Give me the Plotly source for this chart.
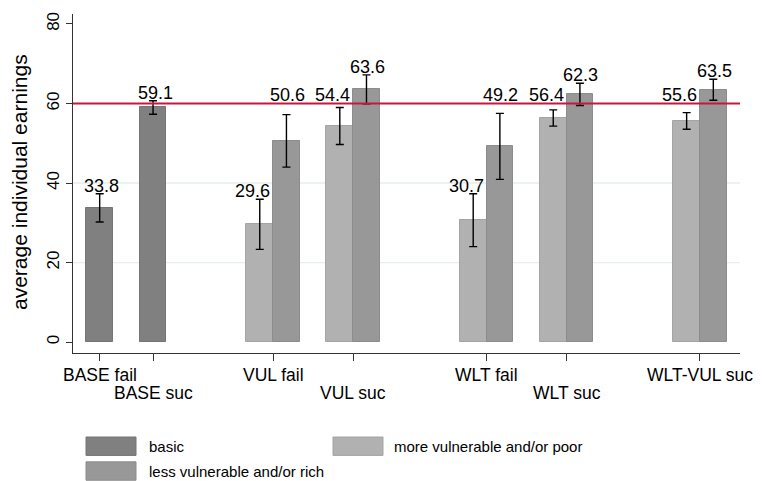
import plotly.graph_objects as go

# ---- data -------------------------------------------------------------
groups = ["BASE fail", "BASE suc", "VUL fail", "VUL suc",
          "WLT fail", "WLT suc", "WLT-VUL suc"]

series_names = ["basic", "more vulnerable and/or poor", "less vulnerable and/or rich"]

basic_groups = ["BASE fail", "BASE suc"]
basic_mean = [33.8, 59.1]
basic_lo = [30.2, 57.3]
basic_hi = [37.3, 60.7]

split_groups = ["VUL fail", "VUL suc", "WLT fail", "WLT suc", "WLT-VUL suc"]
poor_mean = [29.6, 54.4, 30.7, 56.4, 55.6]
poor_lo = [23.3, 49.7, 24.0, 54.3, 53.5]
poor_hi = [35.9, 59.0, 37.3, 58.4, 57.7]
rich_mean = [50.6, 63.6, 49.2, 62.3, 63.5]
rich_lo = [44.0, 59.9, 40.9, 59.5, 60.8]
rich_hi = [57.2, 67.2, 57.5, 65.1, 66.1]

reference_level = 60
y_ticks = [0, 20, 40, 60, 80]
y_title = "average individual earnings"

# ---- layout constants ---------------------------------------------------
GROUP_X = dict(zip(groups, [0, 2, 6.5, 9.5, 14.5, 17.5, 22.5]))
W, H = 762, 481
L, R, T, B = 73, 22, 12, 128
PW, PH = W - L - R, H - T - B
FONT = "Liberation Sans, Arial, Helvetica, sans-serif"
COLORS = ["#808080", "#b1b1b1", "#989898"]
EDGES = ["#747474", "#a4a4a4", "#8c8c8c"]
OFFSETS = [0.0, -0.5, 0.5]
LABEL_XSHIFT = [2, -7, 1]


def px_x(p):
    return (p - L) / PW


def px_y(p):
    return (H - B - p) / PH


def label_base(hi):
    # keep labels clear of the reference line: lift them above it when they
    # would otherwise overlap it
    if reference_level - 6 < hi < reference_level:
        return reference_level
    return hi


series = [
    (basic_groups, basic_mean, basic_lo, basic_hi),
    (split_groups, poor_mean, poor_lo, poor_hi),
    (split_groups, rich_mean, rich_lo, rich_hi),
]

fig = go.Figure()
annotations = []

for i, (cats, mean, lo, hi) in enumerate(series):
    xs = [GROUP_X[c] + OFFSETS[i] for c in cats]
    fig.add_trace(go.Bar(
        x=xs, y=mean, width=1.0, name=series_names[i],
        marker=dict(color=COLORS[i], line=dict(color=EDGES[i], width=1)),
        error_y=dict(type="data", symmetric=False,
                     array=[h - m for h, m in zip(hi, mean)],
                     arrayminus=[m - l for m, l in zip(mean, lo)],
                     color="black", thickness=1.4, width=4),
        showlegend=False,
    ))
    for x, m, h in zip(xs, mean, hi):
        annotations.append(dict(
            x=x, y=label_base(h), xref="x", yref="y",
            text=f"{m:.1f}", showarrow=False, yanchor="middle",
            yshift=8, xshift=LABEL_XSHIFT[i],
            font=dict(size=18, color="black", family=FONT)))

# staggered category labels
for k, g in enumerate(groups):
    annotations.append(dict(
        x=GROUP_X[g], y=0, xref="x", yref="paper", text=g, showarrow=False,
        yanchor="middle", yshift=-22 if k % 2 == 0 else -40,
        font=dict(size=17.5, color="black", family=FONT)))

# y axis title
annotations.append(dict(
    x=px_x(19), y=px_y(181), xref="paper", yref="paper", text=y_title,
    textangle=-90, showarrow=False, xanchor="center", yanchor="middle",
    font=dict(size=21, color="black", family=FONT)))

shapes = []
# light gridlines
for v in [20, 40]:
    shapes.append(dict(type="line", xref="paper", yref="y", x0=0, x1=1,
                       y0=v, y1=v, layer="below",
                       line=dict(color="#e6eeee", width=1.3)))
# reference line
shapes.append(dict(type="line", xref="paper", yref="y", x0=0, x1=1,
                   y0=reference_level, y1=reference_level, layer="above",
                   line=dict(color="#c8173f", width=2)))

# legend keys
legend_items = [
    (series_names[0], 86, 437.5, 147),
    (series_names[1], 333, 437.5, 392),
    (series_names[2], 86, 462.5, 147),
]
for (name, bx, by, tx), col, edge in zip(legend_items, COLORS, EDGES):
    shapes.append(dict(type="rect", xref="paper", yref="paper",
                       x0=px_x(bx), x1=px_x(bx + 50),
                       y0=px_y(by), y1=px_y(by + 18.5),
                       fillcolor=col, line=dict(color=edge, width=1)))
    annotations.append(dict(
        x=px_x(tx), y=px_y(by + 9.5), xref="paper", yref="paper", text=name,
        showarrow=False, xanchor="left", yanchor="middle",
        font=dict(size=15, color="black", family=FONT)))

fig.update_layout(
    width=W, height=H,
    margin=dict(l=L, r=R, t=T, b=B, pad=0),
    paper_bgcolor="white", plot_bgcolor="white",
    font=dict(family=FONT, color="black"),
    bargap=0, barmode="overlay",
    xaxis=dict(range=[-1, 24], tickvals=[GROUP_X[g] for g in groups],
               showticklabels=False, ticks="outside", ticklen=7,
               tickcolor="#333333", showgrid=False, zeroline=False,
               showline=True, linecolor="#333333", linewidth=1.3),
    yaxis=dict(range=[-2.75, 82.5], tickvals=y_ticks, ticks="outside",
               ticklen=6, tickcolor="#333333", tickangle=-90,
               tickfont=dict(size=17, family=FONT, color="black"),
               showgrid=False, zeroline=False, showline=True,
               linecolor="#333333", linewidth=1.3),
    shapes=shapes, annotations=annotations,
)

fig.write_html("out.html")
